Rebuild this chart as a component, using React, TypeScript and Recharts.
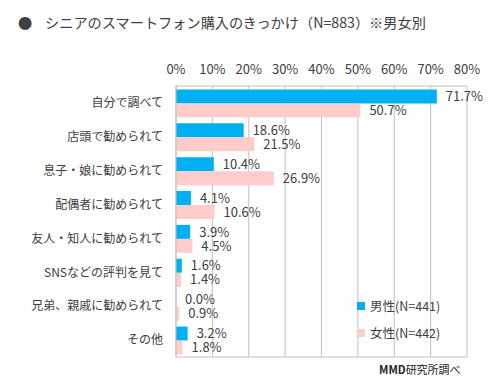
import { BarChart, Bar, XAxis, YAxis, CartesianGrid, LabelList } from 'recharts';

const reasons = [
  '自分で調べて',
  '店頭で勧められて',
  '息子・娘に勧められて',
  '配偶者に勧められて',
  '友人・知人に勧められて',
  'SNSなどの評判を見て',
  '兄弟、親戚に勧められて',
  'その他',
];
const male = [71.7, 18.6, 10.4, 4.1, 3.9, 1.6, 0.0, 3.2];
const female = [50.7, 21.5, 26.9, 10.6, 4.5, 1.4, 0.9, 1.8];
const xTicks = [0, 10, 20, 30, 40, 50, 60, 70, 80];

const BLUE = '#00b0f0';
const PINK = '#ffcccc';
const TEXT = '#404040';
const LINE = '#c0c0c0';
const FONT = '"Noto Sans CJK JP", "Noto Sans", sans-serif';

const data = reasons.map((name, i) => ({ name, male: male[i], female: female[i] }));

const fmt = (v: any) => `${Number(v).toFixed(1)}%`;

// keep zero-value bars (and their labels) in the render
const tinyMin = (v: any) => (Number(v) === 0 ? 0.01 : 0);

const legendItems = [
  { label: '男性(N=441)', color: BLUE },
  { label: '女性(N=442)', color: PINK },
];

export default function App() {
  return (
    <div style={{ position: 'fixed', top: 0, left: 0, width: 488, height: 379, background: '#fff', fontFamily: FONT }}>
      <div style={{ position: 'absolute', top: 12, left: 18, fontSize: 14.2, color: TEXT, whiteSpace: 'nowrap' }}>
        <span style={{ display: 'inline-block', width: 27 }}>●</span>
        シニアのスマートフォン購入のきっかけ（N=883）※男女別
      </div>
      <BarChart
        width={488}
        height={379}
        data={data}
        layout="vertical"
        margin={{ top: 0, right: 21, bottom: 0, left: 0 }}
        barCategoryGap="10%"
        barGap={0}
      >
        <CartesianGrid horizontal={false} stroke={LINE} />
        <XAxis
          type="number"
          orientation="top"
          domain={[0, 80]}
          ticks={xTicks}
          tickFormatter={(v) => `${v}%`}
          height={86}
          tickSize={0}
          tickMargin={12}
          axisLine={{ stroke: LINE }}
          tick={{ fill: TEXT, fontSize: 13, fontFamily: FONT }}
          interval={0}
        />
        <XAxis
          xAxisId="bottom"
          type="number"
          orientation="bottom"
          domain={[0, 80]}
          height={22}
          tick={false}
          tickLine={false}
          axisLine={{ stroke: LINE }}
        />
        <YAxis
          type="category"
          dataKey="name"
          width={176}
          tickSize={0}
          tickMargin={13}
          axisLine={{ stroke: LINE }}
          tick={{ fill: TEXT, fontSize: 12, fontFamily: FONT }}
          interval={0}
        />
        <Bar dataKey="male" fill={BLUE} minPointSize={tinyMin} isAnimationActive={false}>
          <LabelList dataKey="male" position="right" offset={9} formatter={fmt} fill={TEXT} fontSize={13} fontFamily={FONT} />
        </Bar>
        <Bar dataKey="female" fill={PINK} minPointSize={tinyMin} isAnimationActive={false}>
          <LabelList dataKey="female" position="right" offset={9} formatter={fmt} fill={TEXT} fontSize={13} fontFamily={FONT} />
        </Bar>
      </BarChart>
      <div style={{ position: 'absolute', left: 357, top: 292, fontSize: 12.5, color: TEXT }}>
        {legendItems.map((it) => (
          <div key={it.label} style={{ display: 'flex', alignItems: 'center', height: 27, whiteSpace: 'nowrap' }}>
            <span style={{ width: 8, height: 8, background: it.color, marginRight: 5, display: 'inline-block' }} />
            {it.label}
          </div>
        ))}
      </div>
      <div style={{ position: 'absolute', top: 361, left: 379, fontSize: 11, color: '#222', whiteSpace: 'nowrap' }}>
        <b>MMD</b>研究所調べ
      </div>
    </div>
  );
}
